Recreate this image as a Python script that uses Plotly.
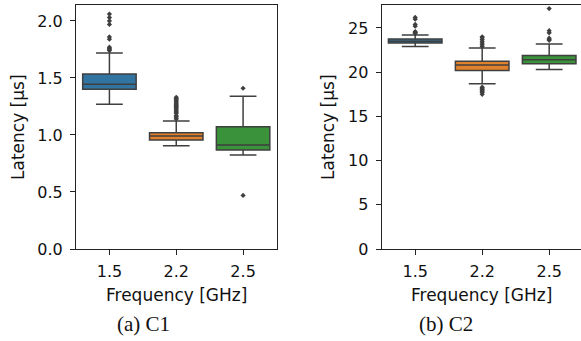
import plotly.graph_objects as go

categories = ["1.5", "2.2", "2.5"]
colors = ["#3274a1", "#e1812c", "#3a923a"]

# C1 box statistics (latency in µs)
c1_q1 = [1.40, 0.956, 0.868]
c1_median = [1.445, 0.99, 0.912]
c1_q3 = [1.535, 1.02, 1.073]
c1_low = [1.27, 0.906, 0.825]
c1_high = [1.72, 1.123, 1.34]
c1_outliers = [
    [1.74, 1.75, 1.76, 1.77, 1.84, 1.86, 1.97, 2.00, 2.03, 2.06],
    [1.14, 1.15, 1.16, 1.17, 1.19, 1.20, 1.21, 1.22, 1.23, 1.24, 1.25, 1.26,
     1.27, 1.28, 1.29, 1.30, 1.31, 1.32, 1.33],
    [1.41, 0.47],
]

# C2 box statistics (latency in µs)
c2_q1 = [23.3, 20.2, 20.95]
c2_median = [23.5, 20.8, 21.4]
c2_q3 = [23.75, 21.25, 21.9]
c2_low = [22.9, 18.7, 20.3]
c2_high = [24.2, 22.75, 23.2]
c2_outliers = [
    [24.4, 24.45, 24.5, 24.6, 25.2, 25.4, 26.0, 26.2],
    [22.9, 23.1, 23.3, 23.5, 23.7, 23.9, 24.0,
     18.3, 18.2, 18.1, 18.0, 17.9, 17.8, 17.7, 17.5],
    [23.6, 23.7, 23.85, 24.45, 24.7, 27.2],
]

line_col = "#3f3f3f"
fig = go.Figure()

def add_panel(q1, med, q3, lo, hi, outs, xa, ya):
    for i, cat in enumerate(categories):
        fig.add_trace(go.Box(
            x=[cat], q1=[q1[i]], median=[med[i]], q3=[q3[i]],
            lowerfence=[lo[i]], upperfence=[hi[i]],
            fillcolor=colors[i], line=dict(color=line_col, width=1.5),
            whiskerwidth=0.5, width=0.8, boxpoints=False,
            xaxis=xa, yaxis=ya, showlegend=False, hoverinfo="skip",
        ))
        fig.add_trace(go.Scatter(
            x=[cat] * len(outs[i]), y=outs[i], mode="markers",
            marker=dict(symbol="diamond", size=4, color=line_col),
            xaxis=xa, yaxis=ya, showlegend=False, hoverinfo="skip",
        ))

add_panel(c1_q1, c1_median, c1_q3, c1_low, c1_high, c1_outliers, "x", "y")
add_panel(c2_q1, c2_median, c2_q3, c2_low, c2_high, c2_outliers, "x2", "y2")

W, H = 581, 341
ydom = [(H - 249) / H, (H - 5) / H]
tickfont = dict(family="DejaVu Sans", size=16, color="#111")
axis_common = dict(showline=True, linecolor="#222", linewidth=1.2, mirror=True,
                   ticks="outside", ticklen=5, tickwidth=1.2, tickcolor="#222",
                   showgrid=False, zeroline=False, tickfont=tickfont, automargin=False)

fig.update_layout(
    width=W, height=H, margin=dict(l=0, r=0, t=0, b=0),
    plot_bgcolor="white", paper_bgcolor="white",
    xaxis=dict(domain=[76 / W, 276.5 / W], type="category", categoryorder="array",
               categoryarray=categories, range=[-0.5, 2.5], anchor="y",
               ticklabelstandoff=3, **axis_common),
    yaxis=dict(domain=ydom, range=[0, 2.14], tickvals=[0, 0.5, 1.0, 1.5, 2.0],
               ticktext=["0.0", "0.5", "1.0", "1.5", "2.0"], anchor="x",
               ticklabelstandoff=4, **axis_common),
    xaxis2=dict(domain=[381.7 / W, 1.0], type="category", categoryorder="array",
                categoryarray=categories, range=[-0.5, 2.475], anchor="y2",
                ticklabelstandoff=3, **axis_common),
    yaxis2=dict(domain=ydom, range=[0, 27.6], tickvals=[0, 5, 10, 15, 20, 25],
                anchor="x2", ticklabelstandoff=4, **axis_common),
)

label_font = dict(family="DejaVu Sans", size=17, color="#111")
cap_font = dict(family="Liberation Serif", size=21, color="#111")
ann = [
    dict(text="Latency [µs]", x=18 / W, y=1 - 127 / H, textangle=-90, font=label_font),
    dict(text="Latency [µs]", x=328 / W, y=1 - 127 / H, textangle=-90, font=label_font),
    dict(text="Frequency [GHz]", x=176 / W, y=1 - 295 / H, font=label_font),
    dict(text="Frequency [GHz]", x=481 / W, y=1 - 295 / H, font=label_font),
    dict(text="(a) C1", x=143 / W, y=1 - 324 / H, font=cap_font),
    dict(text="(b) C2", x=446 / W, y=1 - 324 / H, font=cap_font),
]
for a in ann:
    fig.add_annotation(xref="paper", yref="paper", showarrow=False,
                       xanchor="center", yanchor="middle", **a)

fig.write_html("out.html", config={"displayModeBar": False},
               post_script="document.body.style.margin='0';")
